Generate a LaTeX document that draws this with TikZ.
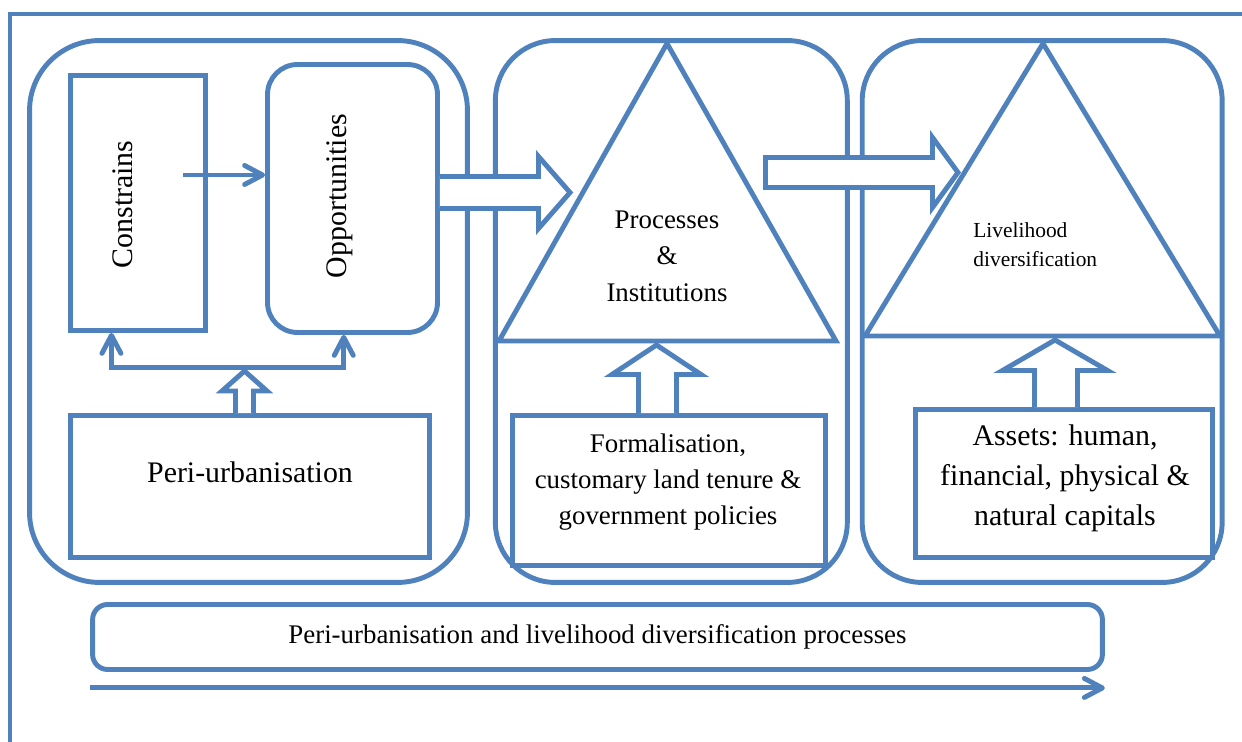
\documentclass[tikz,border=0pt]{standalone}
\usepackage{fontspec}
\setmainfont{Liberation Serif}
\usetikzlibrary{positioning, arrows.meta, calc}
\definecolor{frameblue}{HTML}{4F81BD}

\begin{document}
\begin{tikzpicture}[
    x=0.02cm, y=-0.02cm,
    box/.style={draw=frameblue, line width=2.8pt, inner sep=0pt},
    roundbox/.style={box, rounded corners=#1},
    shapeline/.style={draw=frameblue, line width=2.8pt, line join=miter},
    block/.style={shapeline, fill=white},
    link/.style={draw=frameblue, line width=2.8pt, -{Straight Barb[length=0.36cm, width=0.38cm, round]}},
    bigtext/.style={font=\fontsize{17pt}{22.7pt}\selectfont, align=center, inner sep=0pt},
    midtext/.style={font=\fontsize{15.3pt}{20.7pt}\selectfont, align=center, inner sep=0pt},
    smalltext/.style={font=\fontsize{12.2pt}{16.4pt}\selectfont, align=left, inner sep=0pt}
  ]
    \useasboundingbox (0,0) rectangle (1242,742);
    % open outer frame
    \draw[shapeline] (10,742) -- (10,14) -- (1242,14);

    \node[roundbox=1.4cm, minimum width=8.76cm, minimum height=10.84cm] (leftbox) at (248.5,311.5) {};
    \node[roundbox=1.2cm, minimum width=7.04cm, minimum height=10.84cm, right=0.46cm of leftbox] (midbox) {};
    \node[roundbox=1.2cm, minimum width=7.2cm, minimum height=10.84cm, right=0.2cm of midbox] (rightbox) {};

    \node[box, minimum width=2.7cm, minimum height=5.1cm] (cons) at (138,203) {};
    \node[roundbox=0.6cm, minimum width=3.4cm, minimum height=5.36cm] (opp) at (352.5,198.5) {};
    \node[box, minimum width=7.18cm, minimum height=2.84cm] (peri) at (250,486.5) {};
    \node[box, minimum width=6.26cm, minimum height=3cm] (formal) at (669,490.5) {};
    \node[box, minimum width=5.94cm, minimum height=2.96cm] (assets) at (1064,483.5) {};
    \node[roundbox=0.3cm, minimum width=20.2cm, minimum height=1.3cm, midtext] (bar) at (597.5,637)
      {Peri-urbanisation and livelihood diversification processes};

    % block arrows
    \filldraw[block] (opp.east |- 0,176.5) -- (538.5,176.5) -- (538.5,156.5) -- (570,192.5)
      -- (538.5,228.5) -- (538.5,208.5) -- (opp.east |- 0,208.5);
    \filldraw[block] (765.5,157.5) -- (932.5,157.5) -- (932.5,137.5) -- (958,172.5)
      -- (932.5,207.5) -- (932.5,187.5) -- (765.5,187.5) -- cycle;
    \filldraw[block] (peri.north -| 235.5,0) -- (235.5,391) -- (222,391) -- (244.5,371)
      -- (267,391) -- (253.5,391) -- (peri.north -| 253.5,0);
    \filldraw[block] (formal.north -| 638.5,0) -- (638.5,374.5) -- (612,374.5) -- (656.5,345)
      -- (701,374.5) -- (676.5,374.5) -- (formal.north -| 676.5,0);
    \filldraw[block] (assets.north -| 1034.5,0) -- (1034.5,370.5) -- (1002.5,370.5) -- (1055,340)
      -- (1107.5,370.5) -- (1077.5,370.5) -- (assets.north -| 1077.5,0);

    % triangles
    \draw[shapeline] (667,43.5) -- (836,341) -- (499,341) -- cycle;
    \draw[shapeline] (1043,43.5) -- (1220,336) -- (865,336) -- cycle;

    % thin arrows
    \coordinate (fork) at (244.5,367.5);
    \draw[link] (fork) -| ($(cons.south west)!.31!(cons.south east)$);
    \draw[link] (fork) -| ($(opp.south west)!.45!(opp.south east)$);
    \draw[link] ($(cons.east |- 0,175)+(-25,0)$) -- (opp.west |- 0,175);
    \draw[link] ($(bar.south west)+(0,16)$) -- ($(bar.south east)+(0,16)$);

    % texts
    \node[bigtext, rotate=90] (constext) at (123,204.5) {Constrains};
    \node[bigtext, rotate=90] (opptext) at (340,196) {Opportunities};
    \node[bigtext] (peritext) at (250,472) {Peri-urbanisation};
    \node[midtext] (proctext) at (667,256) {Processes\\\&\\Institutions};
    \node[midtext] (formaltext) at (668,482) {Formalisation,\\customary land tenure \&\\government policies};
    \node[bigtext] (assetstext) at (1065,478) {Assets: human,\\financial, physical \&\\natural capitals};
    \node[smalltext, anchor=west] (livetext) at (973,245) {Livelihood\\diversification};
  \end{tikzpicture}
\end{document}
